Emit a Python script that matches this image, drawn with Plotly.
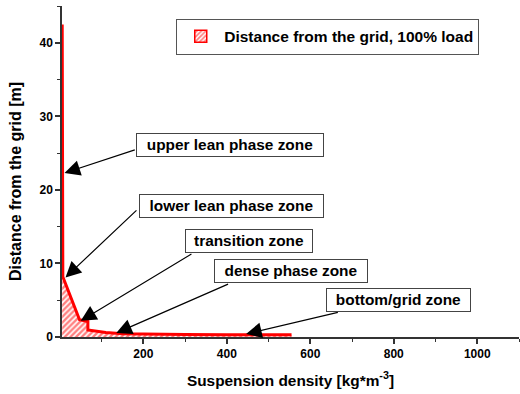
import plotly.graph_objects as go

# ---- data ----
density = [5.5, 6.0, 7.0, 47, 60, 67, 67, 90, 110, 150, 200, 300, 400, 555]
height = [42.5, 22.0, 8.2, 2.35, 2.2, 2.1, 0.95, 0.75, 0.62, 0.45, 0.4, 0.35, 0.32, 0.3]
series_name = "Distance from the grid, 100% load"

zone_labels = ["upper lean phase zone", "lower lean phase zone", "transition zone",
               "dense phase zone", "bottom/grid zone"]
label_x = [408.6, 410.5, 452.4, 552.9, 811.2]
label_y = [26.07, 17.85, 13.03, 8.93, 5.02]
head_x = [11.0, 13.4, 50.0, 135.0, 446.0]
head_y = [22.3, 8.1, 2.2, 0.54, 0.41]
tail_x = [183.0, 187.0, 318.7, 406.5, 669.6]
tail_y = [25.5, 17.4, 11.4, 7.28, 3.39]
box_w = [184, 181, 124, 150, 141]

FONT = "Liberation Sans, Arial, sans-serif"
PATTERN = dict(shape="/", fgcolor="#ff0000", bgcolor="white", size=4, solidity=0.6)

fig = go.Figure()
fig.add_trace(go.Scatter(
    x=density, y=height, mode="lines", name=series_name,
    line=dict(color="#ff0000", width=3),
    fill="tozeroy", fillpattern=PATTERN, fillcolor="white",
    showlegend=False,
))
# legend entry (hatched box)
fig.add_trace(go.Bar(
    x=[None], y=[None], name=series_name,
    marker=dict(color="white", line=dict(color="#ff0000", width=1.5),
                pattern=dict(shape="/", fgcolor="#ff0000", bgcolor="white", size=4, solidity=0.55)),
    showlegend=True,
))

annotations = []
for i in range(len(zone_labels)):
    annotations.append(dict(
        x=head_x[i], y=head_y[i], ax=tail_x[i], ay=tail_y[i],
        xref="x", yref="y", axref="x", ayref="y",
        text="", showarrow=True, arrowhead=2, arrowsize=2.6, arrowwidth=1.2,
        arrowcolor="black",
    ))
for i in range(len(zone_labels)):
    annotations.append(dict(
        x=label_x[i], y=label_y[i], xref="x", yref="y",
        text=zone_labels[i], showarrow=False,
        font=dict(family=FONT, size=15.4, color="black", weight="bold"),
        bgcolor="white", bordercolor="#444", borderwidth=1, borderpad=1,
        width=box_w[i], height=19.5, align="center",
        xanchor="center", yanchor="middle",
    ))
# y-axis title (placed like the original, slightly below the axis centre)
annotations.append(dict(
    x=-0.1028, y=0.468, xref="paper", yref="paper",
    text="Distance from the grid [m]", textangle=-90, showarrow=False,
    font=dict(family=FONT, size=16, color="black", weight="bold"),
    xanchor="center", yanchor="middle",
))

fig.update_layout(
    width=520, height=394,
    margin=dict(l=62, r=1, t=6, b=57),
    paper_bgcolor="white", plot_bgcolor="white",
    font=dict(family=FONT, color="black"),
    showlegend=True,
    legend=dict(
        x=0.25, y=0.962, xanchor="left", yanchor="top",
        bordercolor="#555", borderwidth=1, bgcolor="white",
        font=dict(family=FONT, size=15.5, color="black", weight="bold"),
        tracegroupgap=0, itemwidth=37,
    ),
    annotations=annotations,
    xaxis=dict(
        range=[5, 1100], showgrid=False, zeroline=False,
        showline=True, linecolor="#333", linewidth=1.5,
        ticks="outside", ticklen=5, tickcolor="#333", tickwidth=1.5,
        tickvals=[200, 400, 600, 800, 1000],
        ticktext=["200", "400", "600", "800", "1000"],
        minor=dict(tickvals=[100, 300, 500, 700, 900, 1100], ticks="outside", ticklen=3, tickcolor="#333", tickwidth=1.2),
        tickfont=dict(family=FONT, size=12, color="black", weight="bold"),
        title=dict(text="Suspension density [kg*m<sup>-3</sup>]",
                   font=dict(family=FONT, size=15.4, color="black", weight="bold"), standoff=15),
    ),
    yaxis=dict(
        range=[0, 45], showgrid=False, zeroline=False,
        showline=True, linecolor="#333", linewidth=1.5,
        ticks="outside", ticklen=5, tickcolor="#333", tickwidth=1.5,
        tickvals=[0, 10, 20, 30, 40],
        ticktext=["0", "10", "20", "30", "40"],
        minor=dict(tickvals=[5, 15, 25, 35, 45], ticks="outside", ticklen=3, tickcolor="#333", tickwidth=1.2),
        tickfont=dict(family=FONT, size=12, color="black", weight="bold"),
    ),
)

fig.write_html("out.html")
